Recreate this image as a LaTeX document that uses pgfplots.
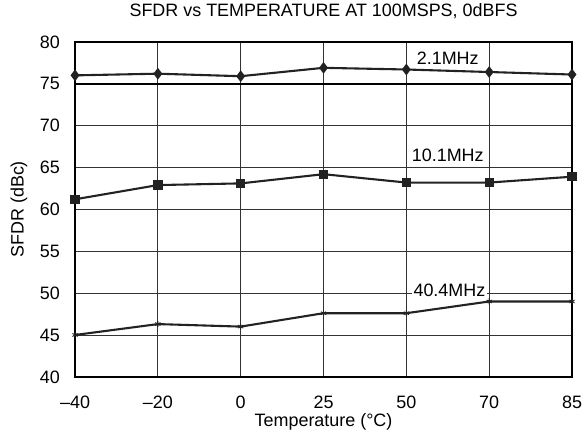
\documentclass[border=0pt]{standalone}
\usepackage{fontspec}
\setmainfont{Liberation Sans}
\usepackage{pgfplots}
\pgfplotsset{compat=1.18}

\definecolor{ink}{HTML}{222222}

\begin{document}
\begin{tikzpicture}
  \begin{axis}[
      scale only axis,
      width=497bp,
      height=335bp,
      xmin=0, xmax=6,
      ymin=40, ymax=80,
      xtick={0,1,2,3,4,5,6},
      xticklabels={–40,–20,0,25,50,70,85},
      ytick={40,45,...,80},
      grid=major,
      major grid style={black!80, line width=0.75pt},
      axis line style={line width=2.5pt},
      tick style={draw=none},
      /pgf/number format/assume math mode=true,
      font=\fontsize{18}{21}\selectfont,
      ticklabel style={font=\fontsize{18}{21}\selectfont, inner sep=0pt},
      yticklabel style={anchor=east, xshift=-15bp},
      xticklabel style={anchor=base, yshift=-31.5bp},
      xlabel={Temperature (°C)},
      ylabel={SFDR (dBc)},
      xlabel style={at={(axis description cs:0.5,-0.1488)}, anchor=base, inner sep=0pt},
      ylabel style={at={(axis description cs:-0.1127,0.5)}, anchor=center, inner sep=0pt},
      title={SFDR vs TEMPERATURE AT 100MSPS, 0dBFS},
      title style={at={(axis description cs:0.5,1.0565)}, anchor=base, inner sep=0pt,
                   font=\fontsize{18}{21}\selectfont},
      clip=false,
  ]
    % heavy line at 75
    \addplot[black, line width=1.6pt, forget plot] coordinates {(0,75) (6,75)};

    % 2.1MHz
    \addplot[ink, line width=2.1pt, mark=diamond*, mark size=4.2pt,
             mark options={solid, fill=ink}] coordinates {
      (0,76.0) (1,76.2) (2,75.9) (3,76.9) (4,76.7) (5,76.4) (6,76.1)
    };
    % 10.1MHz
    \addplot[ink, line width=2.1pt, mark=square*, mark size=3.6pt,
             mark options={solid, fill=ink}] coordinates {
      (0,61.2) (1,62.9) (2,63.1) (3,64.2) (4,63.2) (5,63.2) (6,63.9)
    };
    % 40.4MHz
    \addplot[ink, line width=2.1pt, mark=asterisk, mark size=3pt,
             mark options={solid, line width=0.9pt}] coordinates {
      (0,45.0) (1,46.3) (2,46.0) (3,47.6) (4,47.6) (5,49.0) (6,49.0)
    };

    \node[inner sep=1.5pt] at (axis cs:4.5,78.0) {2.1MHz};
    \node[inner sep=1.5pt] at (axis cs:4.5,66.5) {10.1MHz};
    \node[fill=white, inner sep=1.5pt] at (axis cs:4.52,50.35) {40.4MHz};

    % page extent as in the reference
    \path (axis description cs:-0.151,-0.194) rectangle (axis description cs:1.0201,1.125);
  \end{axis}
\end{tikzpicture}
\end{document}
